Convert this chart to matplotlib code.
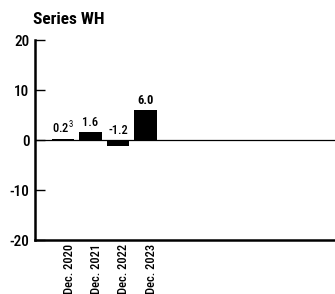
import matplotlib
matplotlib.use("Agg")
import matplotlib.pyplot as plt
from matplotlib import font_manager
from matplotlib.transforms import ScaledTranslation

categories = ["Dec. 2020", "Dec. 2021", "Dec. 2022", "Dec. 2023"]
values = [0.2, 1.6, -1.2, 6.0]
value_labels = ["0.2$^3$", "1.6", "-1.2", "6.0"]
yticks = [-20, -10, 0, 10, 20]
title = "Series WH"

names = {f.name for f in font_manager.fontManager.ttflist}
fam = "DejaVu Sans"
for cand in ["Liberation Sans Narrow", "Roboto Condensed", "Archivo Narrow", "Barlow Semi Condensed"]:
    if cand in names:
        fam = cand
        break
plt.rcParams['font.family'] = [fam, 'DejaVu Sans']
plt.rcParams['mathtext.fontset'] = 'custom'
plt.rcParams['mathtext.rm'] = fam

fig = plt.figure(figsize=(3.35, 2.94), dpi=100)
ax = fig.add_axes([35/335, 54/294, 300/335, 200/294])

x = list(range(len(categories)))
ax.bar(x, values, width=0.82, color="black", zorder=3)
ax.axhline(0, color="black", lw=0.9, zorder=2)

for xi, v, lab in zip(x, values, value_labels):
    y = max(v, 0) + 0.5
    ax.text(xi, y, lab, ha="center", va="bottom", fontsize=9,
            fontweight="bold" if lab == "6.0" else "medium")

ax.set_xlim(-1.02, 9.9)
ax.set_ylim(-20, 20)
ax.set_yticks(yticks)
ax.set_yticklabels([str(t) for t in yticks], fontsize=11, fontweight="medium")
ax.set_xticks(x)
ax.set_xticklabels(categories, rotation=90, fontsize=9, va="top", fontweight="medium")
ax.tick_params(axis="x", length=0, pad=2.5)
ax.tick_params(axis="y", length=7, width=1, direction="in", pad=4)
for lab in ax.get_xticklabels():
    lab.set_transform(lab.get_transform() + ScaledTranslation(6/100, 0, fig.dpi_scale_trans))
for s in ["top", "right"]:
    ax.spines[s].set_visible(False)
ax.spines["left"].set_linewidth(1.8)
ax.spines["bottom"].set_linewidth(1.8)

fig.text(33/335, 1 - 20/294, title, fontsize=12.5, ha="left", va="center", fontweight="semibold")

fig.savefig("out.png", dpi=100)
